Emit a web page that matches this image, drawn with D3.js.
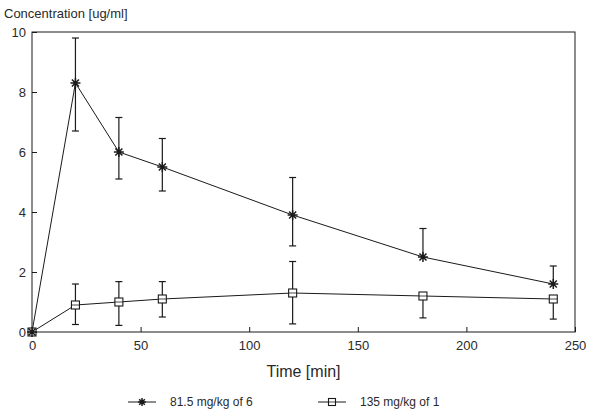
<!DOCTYPE html>
<html>
<head>
<meta charset="utf-8">
<script src="https://cdn.jsdelivr.net/npm/d3@7.9.0/dist/d3.min.js"></script>
<style>
  body { margin: 0; background: #fff; }
  svg { font-family: "Liberation Sans", Arial, sans-serif; }
  text { fill: #2a2a2a; }
</style>
</head>
<body>
<svg id="chart" width="590" height="417"></svg>
<script>
// time points (min)
const times = [0, 20, 40, 60, 120, 180, 240];

// 81.5 mg/kg of 6
const starMean  = [0, 8.3, 6.0, 5.5, 3.9, 2.5, 1.6];
const starUpper = [null, 9.8, 7.15, 6.45, 5.15, 3.45, 2.2];
const starLower = [null, 6.7, 5.1, 4.7, 2.87, null, null];

// 135 mg/kg of 1
const sqMean  = [0, 0.9, 1.0, 1.1, 1.3, 1.2, 1.1];
const sqUpper = [null, 1.6, 1.68, 1.68, 2.35, null, null];
const sqLower = [null, 0.25, 0.22, 0.5, 0.27, 0.47, 0.43];

const xTicks = [0, 50, 100, 150, 200, 250];
const yTicks = [0, 2, 4, 6, 8, 10];
const legendLabels = ["81.5 mg/kg of 6", "135 mg/kg of 1"];

const svg = d3.select("#chart");
const margin = {left: 32, right: 15, top: 32, bottom: 85};
const W = 590, H = 417;

const x = d3.scaleLinear().domain([0, 250]).range([margin.left, W - margin.right]);
const y = d3.scaleLinear().domain([0, 10]).range([H - margin.bottom, margin.top]);

const ink = "#1a1a1a";

// frame
svg.append("rect")
  .attr("x", x(0)).attr("y", y(10))
  .attr("width", x(250) - x(0)).attr("height", y(0) - y(10))
  .attr("fill", "none").attr("stroke", ink).attr("stroke-width", 1);

// axes with inward ticks
const xAxis = svg.append("g").attr("transform", `translate(0,${y(0)})`)
  .call(d3.axisBottom(x).tickValues(xTicks).tickSizeInner(-5).tickSizeOuter(0).tickPadding(9)
    .tickFormat(d3.format("d")));
const yAxis = svg.append("g").attr("transform", `translate(${x(0)},0)`)
  .call(d3.axisLeft(y).tickValues(yTicks).tickSizeInner(-5).tickSizeOuter(0).tickPadding(8));
[xAxis, yAxis].forEach(g => {
  g.select(".domain").remove();
  g.selectAll("line").attr("stroke", ink);
  g.selectAll("text").attr("font-size", 13).attr("fill", "#2a2a2a");
});
yAxis.selectAll("text").attr("dx", 2);

// titles
svg.append("text").attr("x", 4).attr("y", 18).attr("font-size", 13)
  .text("Concentration [ug/ml]");
svg.append("text").attr("x", (x(0) + x(250)) / 2).attr("y", 377)
  .attr("text-anchor", "middle").attr("font-size", 16).text("Time [min]");

const line = d3.line().x((d, i) => x(times[i])).y(d => y(d));

function drawSeries(mean, upper, lower, marker) {
  const g = svg.append("g");
  g.append("path").datum(mean).attr("d", line)
    .attr("fill", "none").attr("stroke", ink).attr("stroke-width", 1);
  mean.forEach((m, i) => {
    const cx = x(times[i]);
    [[upper[i]], [lower[i]]].forEach(([e]) => {
      if (e == null) return;
      g.append("line").attr("x1", cx).attr("x2", cx).attr("y1", y(m)).attr("y2", y(e))
        .attr("stroke", ink).attr("stroke-width", 1.2);
      g.append("line").attr("x1", cx - 3.5).attr("x2", cx + 3.5).attr("y1", y(e)).attr("y2", y(e))
        .attr("stroke", ink).attr("stroke-width", 1.2);
    });
    marker(g, cx, y(m));
  });
}

function star(g, cx, cy, r = 5) {
  const p = d3.path();
  for (let k = 0; k < 4; k++) {
    const a = k * Math.PI / 4;
    p.moveTo(cx - r * Math.cos(a), cy - r * Math.sin(a));
    p.lineTo(cx + r * Math.cos(a), cy + r * Math.sin(a));
  }
  g.append("path").attr("d", p.toString()).attr("stroke", ink).attr("stroke-width", 1.5);
}
function square(g, cx, cy, s = 8) {
  g.append("rect").attr("x", cx - s / 2).attr("y", cy - s / 2).attr("width", s).attr("height", s)
    .attr("fill", "#fff").attr("stroke", ink).attr("stroke-width", 1.1);
  g.append("line").attr("x1", cx - s / 2).attr("x2", cx + s / 2).attr("y1", cy).attr("y2", cy)
    .attr("stroke", ink).attr("stroke-width", 0.8);
}

drawSeries(sqMean, sqUpper, sqLower, square);
drawSeries(starMean, starUpper, starLower, star);

// legend
const leg = svg.append("g").attr("transform", "translate(0,406)");
const items = [{label: legendLabels[0], m: star, x0: 128}, {label: legendLabels[1], m: square, x0: 318}];
items.forEach(it => {
  leg.append("line").attr("x1", it.x0).attr("x2", it.x0 + 28).attr("y1", -4).attr("y2", -4)
    .attr("stroke", ink);
  it.m(leg, it.x0 + 14, -4, it.m === star ? 4 : 7);
  leg.append("text").attr("x", it.x0 + 42).attr("y", 0).attr("font-size", 12).text(it.label);
});
</script>
</body>
</html>
